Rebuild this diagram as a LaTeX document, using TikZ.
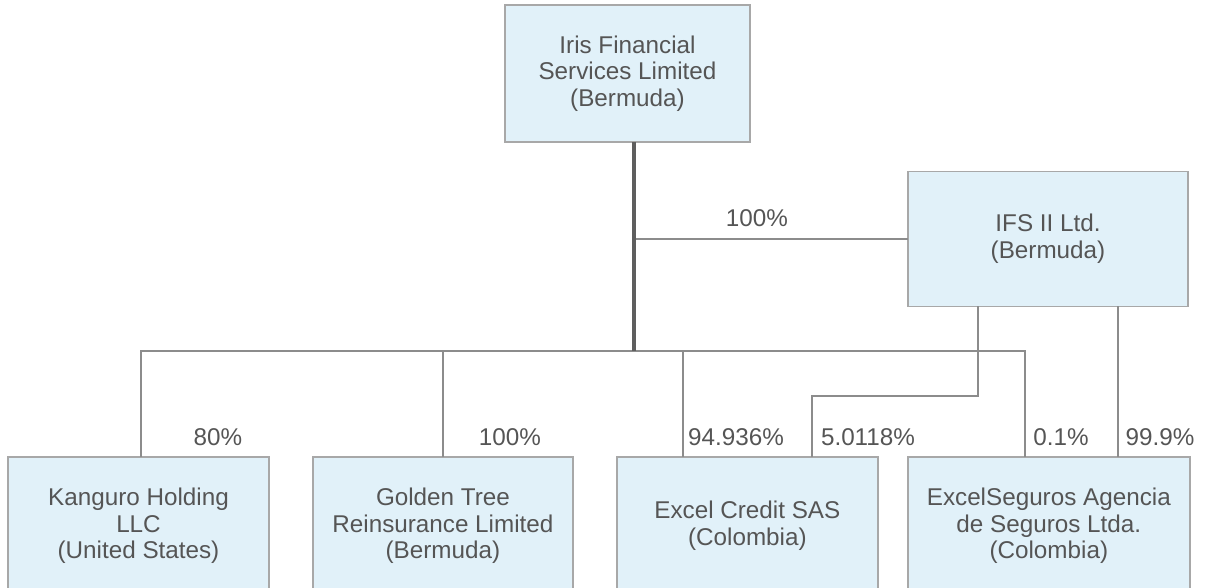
\documentclass[tikz,border=0pt]{standalone}
\usepackage{fontspec}
\setmainfont{Liberation Sans}
\usepackage{tikz}
\usetikzlibrary{positioning}
\definecolor{boxfill}{HTML}{E1F1F9}
\definecolor{boxline}{HTML}{A8A8A8}
\definecolor{inktext}{HTML}{555555}
\definecolor{linkline}{HTML}{8C8C8C}
\definecolor{trunkline}{HTML}{5E5E5E}
\tikzset{
	entity/.style={draw=boxline,fill=boxfill,line width=0.9pt,inner sep=0pt,outer sep=0pt,align=center,text=inktext,font=\fontsize{13.8}{15.2}\selectfont},
	share/.style={text=inktext,inner sep=0pt,font=\fontsize{13.8}{15.2}\selectfont},
	link/.style={draw=linkline,line width=1pt},
	trunk/.style={draw=trunkline,line width=1.8pt},
}

\begin{document}
\begin{tikzpicture}[x=0.02cm,y=-0.02cm]
	\useasboundingbox (0,0) rectangle (1205,588);
	\clip (0,0) rectangle (1205,588);
	%% holding companies
	\node[entity,minimum width=4.9cm,minimum height=2.74cm] (iris) at (627.5,73.5) {Iris Financial\\Services Limited\\(Bermuda)};
	\node[entity,minimum width=5.6cm,minimum height=2.7cm] (ifs) at (1048,239) {IFS II Ltd.\\(Bermuda)};
	%% subsidiaries
	\node[entity,minimum width=5.22cm,minimum height=2.76cm] (kang) at (138.5,526) {Kanguro Holding\\LLC\\(United States)};
	\node[entity,minimum width=5.2cm,minimum height=2.76cm,right=0.88cm of kang] (golden) {Golden Tree\\Reinsurance Limited\\(Bermuda)};
	\node[entity,minimum width=5.22cm,minimum height=2.76cm,right=0.88cm of golden] (credit) {Excel Credit SAS\\(Colombia)};
	\node[entity,minimum width=5.64cm,minimum height=2.76cm,right=0.6cm of credit] (seguros) {ExcelSeguros Agencia\\de Seguros Ltda.\\(Colombia)};
	% junctions
	\coordinate (hub) at (634,351);
	\coordinate (barL) at (141,351);
	\coordinate (barR) at (1025,351);
	\coordinate (creditA) at (683,351);
	\coordinate (ifsA) at (978,396);
	\coordinate (creditB) at (812,396);
	\coordinate (ifsB) at (1118,351);
	% ownership lines
	\draw[link] (hub |- ifs.west) -- (ifs.west);
	\draw[link] (kang.north -| barL) -- (barL) -- (barR) -- (barR |- seguros.north);
	\draw[link] (golden.north) -- (golden.north |- barL);
	\draw[link] (creditA) -- (creditA |- credit.north);
	\draw[link] (ifs.south -| ifsA) -- (ifsA) -- (creditB) -- (creditB |- credit.north);
	\draw[link] (ifs.south -| ifsB) -- (ifsB |- seguros.north);
	\draw[trunk] (iris.south -| hub) -- (hub);
	% percentages
	\node[share] (pIfs) at (757,218) {100\%};
	\node[share] (pKang) at (218,437) {80\%};
	\node[share] (pGolden) at (510,437) {100\%};
	\node[share] (pCreditA) at (736,437) {94.936\%};
	\node[share] (pCreditB) at (868,437) {5.0118\%};
	\node[share] (pSegA) at (1061,437) {0.1\%};
	\node[share] (pSegB) at (1160,437) {99.9\%};
\end{tikzpicture}
\end{document}
